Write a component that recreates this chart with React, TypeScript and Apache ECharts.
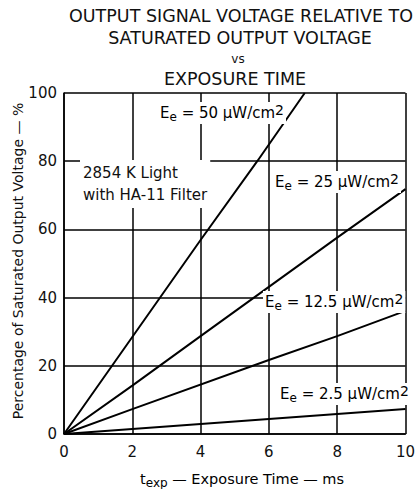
import React, { useEffect, useRef } from "react";
import * as echarts from "echarts";

const xTicks = [0, 2, 4, 6, 8, 10];
const seriesNames = ["50", "25", "12.5", "2.5"];
const line50: [number, number][] = [[0, 0], [4, 56.9], [5.66, 80], [7.05, 100]];
const line25: [number, number][] = [[0, 0], [2, 14.2], [4, 28.7], [8, 57.6], [10, 71.8]];
const line125: [number, number][] = [[0, 0], [2, 7.3], [6, 21.7], [8, 28.7], [10, 36.1]];
const line25b: [number, number][] = [[0, 0], [2, 1.5], [6, 4.4], [10, 7.3]];

const FONT = "DejaVu Sans, Verdana, sans-serif";

export default function App() {
  const ref = useRef<HTMLDivElement>(null);
  useEffect(() => {
    const chart = echarts.init(ref.current!, null, { renderer: "svg" });
    const rich = {
      b: { fontSize: 15, fontFamily: FONT, color: "#111" },
      sub: { fontSize: 12, fontFamily: FONT, color: "#111", padding: [8, 0, 0, 0] },
      sup: { fontSize: 14, fontFamily: FONT, color: "#111", padding: [0, 0, 6, 0] },
    };
    const eLabel = (val: string, x: number, y: number) => ({
      type: "text",
      x,
      y,
      z: 100,
      style: {
        text: `{b|E}{sub|e}{b| = ${val} μW/cm}{sup|2}`,
        rich,
        backgroundColor: "#fff",
        padding: [1, 2, 1, 2],
        verticalAlign: "middle",
        align: "left",
      },
    });
    const mk = (data: [number, number][], name: string) => ({
      type: "line",
      name,
      data,
      showSymbol: false,
      symbol: "none",
      lineStyle: { color: "#000", width: 2 },
      z: 5,
    });
    chart.setOption({
      animation: false,
      backgroundColor: "#fff",
      grid: { left: 64, top: 93, width: 346, height: 341, containLabel: false },
      xAxis: {
        type: "value",
        min: 0,
        max: 10,
        interval: 2,
        axisLine: { show: true, lineStyle: { color: "#000", width: 1.5 } },
        axisTick: { show: false },
        splitLine: { show: true, lineStyle: { color: "#000", width: 1.5 } },
        axisLabel: {
          color: "#111",
          fontSize: 15,
          fontFamily: FONT,
          margin: 10,
          formatter: (v: number) => (xTicks.includes(v) ? String(v) : ""),
        },
      },
      yAxis: {
        type: "value",
        min: 0,
        max: 100,
        interval: 20,
        axisLine: { show: true, lineStyle: { color: "#000", width: 1.5 } },
        axisTick: { show: false },
        splitLine: { show: true, lineStyle: { color: "#000", width: 1.5 } },
        axisLabel: { color: "#111", fontSize: 15, fontFamily: FONT, margin: 7 },
      },
      series: [
        mk(line50, seriesNames[0]),
        mk(line25, seriesNames[1]),
        mk(line125, seriesNames[2]),
        mk(line25b, seriesNames[3]),
      ],
      graphic: [
        { type: "text", x: 241, y: 16, style: { text: "OUTPUT SIGNAL VOLTAGE RELATIVE TO", fontSize: 17.5, fontFamily: FONT, fill: "#111", align: "center", verticalAlign: "middle" } },
        { type: "text", x: 240, y: 38, style: { text: "SATURATED OUTPUT VOLTAGE", fontSize: 17.5, fontFamily: FONT, fill: "#111", align: "center", verticalAlign: "middle" } },
        { type: "text", x: 238, y: 59, style: { text: "vs", fontSize: 12, fontFamily: FONT, fill: "#111", align: "center", verticalAlign: "middle" } },
        { type: "text", x: 235, y: 79, style: { text: "EXPOSURE TIME", fontSize: 17.5, fontFamily: FONT, fill: "#111", align: "center", verticalAlign: "middle" } },
        {
          type: "text", x: 18, y: 261, rotation: Math.PI / 2,
          style: { text: "Percentage of Saturated Output Voltage — %", fontSize: 14, fontFamily: FONT, fill: "#111", align: "center", verticalAlign: "middle" },
        },
        {
          type: "text", x: 242, y: 479,
          style: {
            text: "{b|t}{sub|exp}{b| — Exposure Time — ms}",
            rich: { b: { fontSize: 14.5, fontFamily: FONT, color: "#111" }, sub: { fontSize: 12, fontFamily: FONT, color: "#111", padding: [7, 0, 0, 0] } },
            align: "center", verticalAlign: "middle",
          },
        },
        eLabel("50", 158, 113),
        eLabel("25", 273, 182),
        eLabel("12.5", 263, 302),
        eLabel("2.5", 278, 394),
        {
          type: "text", x: 80, y: 184, z: 100,
          style: {
            text: "2854 K Light\nwith HA-11 Filter",
            fontSize: 15, fontFamily: FONT, fill: "#111", lineHeight: 22,
            backgroundColor: "#fff", padding: [2, 3, 2, 3],
            align: "left", verticalAlign: "middle",
          },
        },
      ],
    });
    return () => chart.dispose();
  }, []);
  return <div ref={ref} style={{ width: 418, height: 489, position: "absolute", left: 0, top: 0 }} />;
}
